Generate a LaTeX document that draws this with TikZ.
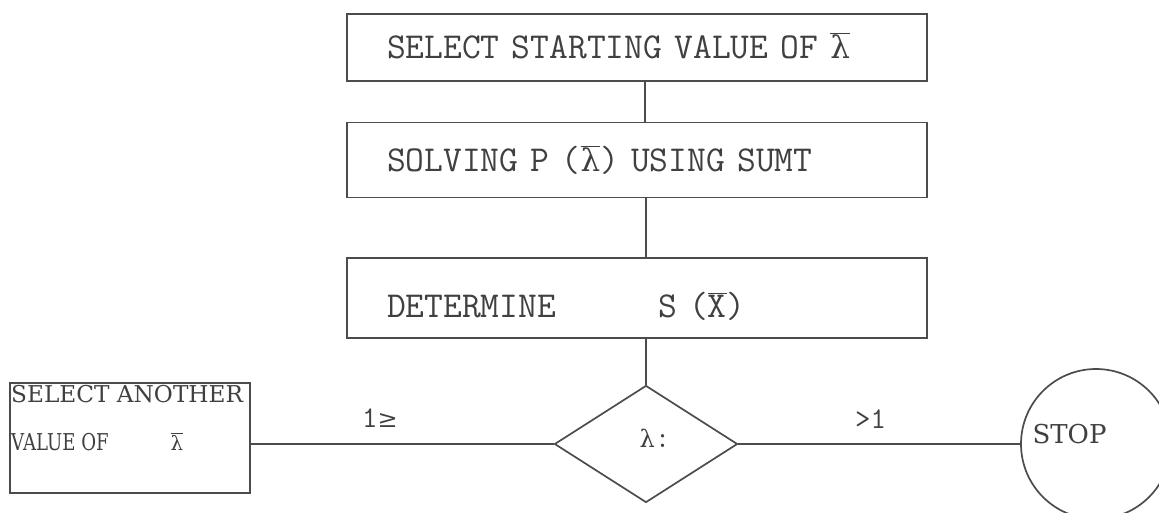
\documentclass[tikz,border=0pt]{standalone}
\usepackage{fontspec}
\newfontfamily\serifA{DejaVu Serif}
\usetikzlibrary{shapes.geometric}
\newcommand\barlam{\ensuremath{\overline{\hbox{\serifA\addfontfeature{Scale=0.85}λ}}}}
\newcommand\barX{\ensuremath{\overline{\hbox{X}}}}
\begin{document}
\begin{tikzpicture}[x=1pt,y=-1pt,
  ln/.style={draw=black!70, line width=1.7pt},
  txt/.style={text=black!75},
  stepbox/.style={ln, txt, rectangle, minimum width=580pt, inner sep=0pt,
    text width=500pt, align=left, text height=24pt, text depth=1.7pt,
    font=\ttfamily\fontsize{36.5}{40}\selectfont},
  lab/.style={txt, inner sep=0pt, font=\ttfamily\fontsize{30}{34}\selectfont},
  sertext/.style={txt, inner sep=0pt, font=\serifA\fontsize{23.2}{28}\selectfont}]
\useasboundingbox (0,0) rectangle (1159,512);
\fill[white] (0,0) rectangle (1159,512);
\clip (0,0) rectangle (1159,512);

\node[stepbox, minimum height=67pt] (b1) at (637,47.5) {SELECT STARTING VALUE OF \barlam};
\node[stepbox, minimum height=75pt] (b2) at (637,160) {SOLVING P (\barlam) USING SUMT};
\node[stepbox, minimum height=80pt] (b3) at (637,298) {\raisebox{-8pt}{DETERMINE\hspace{102pt}S (\barX)}};

\node[ln, diamond, minimum width=183pt, minimum height=117pt, inner sep=0pt,
  label={[lab, xshift=9pt, yshift=5pt, text height=16pt, text depth=0pt]center:{\serifA\addfontfeature{Scale=0.8}λ}:}] (dec) at (646,444) {};

\node[ln, rectangle, minimum width=240pt, minimum height=110pt, inner sep=0pt] (another) at (130,438) {};
\node[sertext, anchor=base west] (t1) at (11,402) {SELECT ANOTHER};
\node[sertext, anchor=base west] (t2) at (11,450) {\scalebox{0.78}[1]{VALUE OF}\hspace{62pt}\barlam};

\node[ln, circle, minimum size=150pt, inner sep=0pt,
  label={[txt, font=\serifA\fontsize{26}{30}\selectfont, xshift=-26.5pt, yshift=10pt, text height=19pt, text depth=0pt]center:STOP}] (stop) at (1096,444) {};

\draw[ln] ([xshift=8pt]b1.south) -- ([xshift=8pt]b2.north);
\draw[ln] ([xshift=9pt]b2.south) -- ([xshift=9pt]b3.north);
\draw[ln] ([xshift=9pt]b3.south) -- (dec.north);
\draw[ln] (dec.west) -- (dec.west -| another.east);
\draw[ln] (dec.east) -- (stop.west);

\node[lab, anchor=base west] (l1) at (362,427) {1{\serifA\addfontfeature{Scale=0.8}≥}};
\node[lab, anchor=base west] (l2) at (855,428) {>1};
\end{tikzpicture}
\end{document}
